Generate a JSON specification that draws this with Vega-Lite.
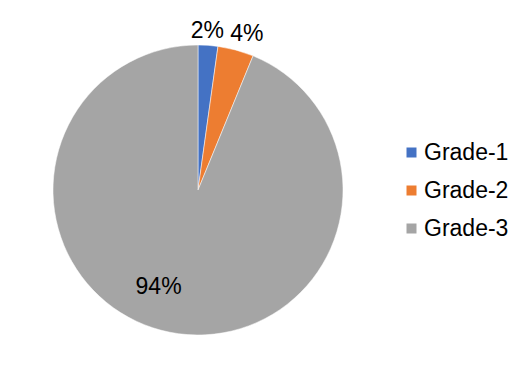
{
  "$schema": "https://vega.github.io/schema/vega-lite/v6.json",
  "width": 290,
  "height": 290,
  "autosize": {"type": "none"},
  "padding": {"left": 53, "top": 45, "right": 189, "bottom": 46},
  "background": "white",
  "data": {
    "values": [
      {"grade": "Grade-1", "value": 2.2, "label": "2%"},
      {"grade": "Grade-2", "value": 4.0, "label": "4%"},
      {"grade": "Grade-3", "value": 93.8, "label": "94%"}
    ]
  },
  "config": {
    "font": "Liberation Sans",
    "view": {"stroke": null}
  },
  "encoding": {
    "theta": {"field": "value", "type": "quantitative", "stack": true},
    "color": {
      "field": "grade",
      "type": "nominal",
      "scale": {"domain": ["Grade-1", "Grade-2", "Grade-3"], "range": ["#4472C4", "#ED7D31", "#A5A5A5"]},
      "legend": {
        "title": null,
        "orient": "none",
        "legendX": 347,
        "legendY": 96,
        "symbolType": "square",
        "symbolSize": 100,
        "symbolStrokeWidth": 0,
        "labelFontSize": 23,
        "labelColor": "#000000",
        "labelFont": "Liberation Sans",
        "labelOffset": 1,
        "rowPadding": 14
      }
    }
  },
  "layer": [
    {
      "mark": {"type": "arc", "outerRadius": 145, "stroke": "white", "strokeWidth": 0.5}
    },
    {
      "mark": {"type": "text", "radius": 159, "thetaOffset": -0.01, "fontSize": 23, "color": "#000000", "baseline": "middle", "align": "center"},
      "encoding": {
        "text": {"condition": {"test": "datum.grade === 'Grade-1'", "field": "label"}, "value": ""},
        "color": {"value": "#000000"}
      }
    },
    {
      "mark": {"type": "text", "radius": 163, "thetaOffset": 0.04, "fontSize": 23, "color": "#000000", "baseline": "middle", "align": "center"},
      "encoding": {
        "text": {"condition": {"test": "datum.grade === 'Grade-2'", "field": "label"}, "value": ""},
        "color": {"value": "#000000"}
      }
    },
    {
      "mark": {"type": "text", "radius": 105, "thetaOffset": 0.19, "fontSize": 23, "color": "#000000", "baseline": "middle", "align": "center"},
      "encoding": {
        "text": {"condition": {"test": "datum.grade === 'Grade-3'", "field": "label"}, "value": ""},
        "color": {"value": "#000000"}
      }
    }
  ]
}
